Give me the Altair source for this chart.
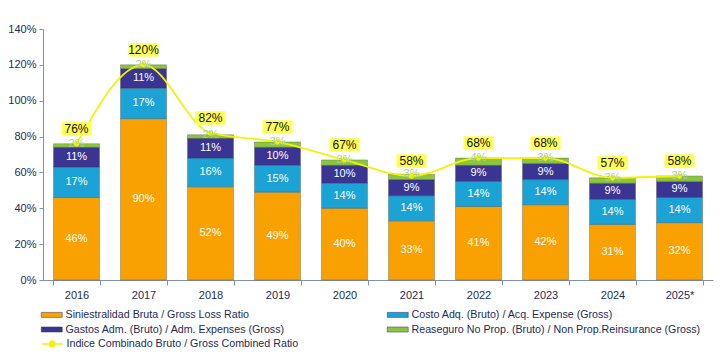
import altair as alt
import pandas as pd

years = ["2016", "2017", "2018", "2019", "2020", "2021", "2022", "2023", "2024", "2025*"]
loss = [46, 90, 52, 49, 40, 33, 41, 42, 31, 32]
acq = [17, 17, 16, 15, 14, 14, 14, 14, 14, 14]
adm = [11, 11, 11, 10, 10, 9, 9, 9, 9, 9]
reins = [2, 2, 2, 3, 3, 3, 4, 3, 3, 3]
combined = [76, 120, 82, 77, 67, 58, 68, 68, 57, 58]

series = [
    "Siniestralidad Bruta / Gross Loss Ratio",
    "Costo Adq. (Bruto)  / Acq. Expense (Gross)",
    "Gastos Adm. (Bruto) / Adm. Expenses (Gross)",
    "Reaseguro No Prop. (Bruto) / Non Prop.Reinsurance (Gross)",
]
line_name = "Indice Combinado Bruto / Gross Combined Ratio"
colors = ["#F9A100", "#1BA3D6", "#3A3592", "#8CC63F"]
YELLOW = "#F2F20A"

# legend is filled column by column: order entries so rows read as in the reference
legend_order = [0, 2, 1, 3]
leg_domain = [series[i] for i in legend_order]
leg_range = [colors[i] for i in legend_order]

rows = []
for i, y in enumerate(years):
    for k, vals in enumerate([loss, acq, adm, reins]):
        rows.append({"year": y, "series": series[k], "order": k, "value": vals[i]})
bars_df = pd.DataFrame(rows)
line_df = pd.DataFrame({"year": years, "combined": combined, "series": line_name})

FONT = "Liberation Sans"
LBL = "#1F2A55"
xenc = alt.X("year:N", sort=years, title=None,
             scale=alt.Scale(paddingInner=0.31, paddingOuter=0.155),
             axis=alt.Axis(labelAngle=0, tickBand="extent", tickSize=5, labelPadding=4,
                           labelFontSize=11, labelColor=LBL, domainColor="#8090B0",
                           tickColor="#8090B0", labelFont=FONT))
yscale = alt.Scale(domain=[0, 140])
yaxis = alt.Axis(values=list(range(0, 141, 20)), labelExpr="datum.value + '%'",
                 grid=False, tickSize=4, labelPadding=3, labelFontSize=11,
                 labelOverlap=False, labelColor=LBL, domainColor="#8090B0",
                 tickColor="#8090B0", labelFont=FONT, title=None)
X = alt.X("year:N", sort=years)

base = alt.Chart(bars_df).transform_stack(
    stack="value", groupby=["year"], sort=[alt.SortField("order")], as_=["v0", "v1"]
).transform_calculate(mid="(datum.v0 + datum.v1) / 2", lbl="datum.value + '%'")

bars = base.mark_bar(size=46, stroke="#3a3a3a", strokeWidth=0.6, strokeOpacity=0.5).encode(
    x=xenc,
    y=alt.Y("v1:Q", scale=yscale, title=None, axis=yaxis),
    y2="v0:Q",
    color=alt.Color("series:N", scale=alt.Scale(domain=leg_domain, range=leg_range), title=None,
                    legend=alt.Legend(orient="none", legendX=3.25, legendY=280, columns=2,
                                      columnPadding=100, rowPadding=3,
                                      labelFont=FONT, labelFontSize=10.7, labelColor=LBL,
                                      labelLimit=400, labelOffset=8.25,
                                      symbolType="M-2,-0.48H2V0.48H-2Z", symbolSize=110,
                                      symbolOpacity=1, symbolStrokeColor="#333366",
                                      symbolStrokeWidth=0.5)),
    order=alt.Order("order:Q"),
)

seg_labels = base.transform_filter("datum.order < 3").mark_text(
    font=FONT, fontSize=11, color="white", baseline="middle"
).encode(x=X, y=alt.Y("mid:Q", scale=yscale, title=None, axis=yaxis), text="lbl:N")

reins_labels = base.transform_filter("datum.order == 3").mark_text(
    font=FONT, fontSize=11, color="#A9D18E", baseline="middle"
).encode(x=X, y=alt.Y("v1:Q", scale=yscale, title=None, axis=yaxis), text="lbl:N")

lbase = alt.Chart(line_df).transform_calculate(lbl="datum.combined + '%'")
Yc = alt.Y("combined:Q", scale=yscale, title=None, axis=yaxis)
line = lbase.mark_line(strokeWidth=1.8, interpolate="monotone").encode(
    x=X, y=Yc,
    stroke=alt.Stroke("series:N", scale=alt.Scale(domain=[line_name], range=[YELLOW]), title=None,
                      legend=alt.Legend(orient="none", legendX=3.25, legendY=309,
                                        labelFont=FONT, labelFontSize=10.7, labelColor=LBL,
                                        labelLimit=400, labelOffset=8.25,
                                        symbolType="M-2,0H-0.55M0.55,0H2M-0.55,0A0.55,0.55,0,1,1,0.55,0A0.55,0.55,0,1,1,-0.55,0Z",
                                        symbolSize=110, symbolFillColor=YELLOW,
                                        symbolStrokeWidth=1.5, symbolOpacity=1)))
pts = lbase.mark_point(filled=True, color=YELLOW, size=30, opacity=1).encode(x=X, y=Yc)
boxes = lbase.mark_point(filled=True, color="#FFFF55", opacity=1, size=900, yOffset=-15,
                         shape="M-1,-0.45H1V0.45H-1Z").encode(x=X, y=Yc)
clabels = lbase.mark_text(font=FONT, fontSize=12, color="#111111", baseline="middle", dy=-15).encode(
    x=X, y=Yc, text="lbl:N")

chart = alt.layer(bars, seg_labels, line, pts, reins_labels, boxes, clabels).properties(
    width=670, height=251,
    autosize=alt.AutoSizeParams(type="none"),
    padding={"left": 43, "top": 29, "right": 7, "bottom": 74},
    background="white",
).configure_view(stroke=None)

chart.save("out.html", embed_options={"renderer": "svg", "actions": False})
